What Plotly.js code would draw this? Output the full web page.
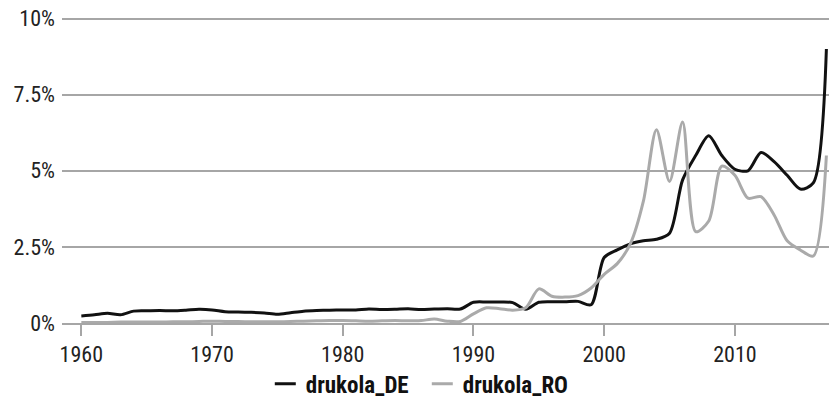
<!DOCTYPE html>
<html>
<head>
<meta charset="utf-8">
<script src="https://cdn.plot.ly/plotly-3.0.1.min.js"></script>
<style>
html,body{margin:0;padding:0;background:#fff;}
#chart{width:829px;height:410px;}
</style>
</head>
<body>
<div id="chart"></div>
<script>
var years = [];
for (var y = 1960; y <= 2017; y++) years.push(y);

var drukola_DE = [
  0.23, 0.27, 0.32, 0.27, 0.39, 0.40, 0.41, 0.40, 0.42, 0.45,
  0.43, 0.37, 0.36, 0.35, 0.33, 0.29, 0.34, 0.39, 0.41, 0.42,
  0.43, 0.43, 0.46, 0.44, 0.45, 0.47, 0.44, 0.46, 0.47, 0.46,
  0.68, 0.69, 0.69, 0.67, 0.45, 0.68, 0.70, 0.70, 0.71, 0.60,
  2.15, 2.40, 2.60, 2.70, 2.75, 2.95, 4.70, 5.50, 6.15, 5.50,
  5.05, 5.00, 5.60, 5.30, 4.85, 4.40, 4.60, 9.00
];

var drukola_RO = [
  0.02, 0.02, 0.02, 0.03, 0.03, 0.03, 0.03, 0.04, 0.04, 0.05,
  0.06, 0.05, 0.05, 0.04, 0.04, 0.04, 0.05, 0.06, 0.07, 0.08,
  0.08, 0.07, 0.06, 0.07, 0.08, 0.07, 0.08, 0.13, 0.06, 0.05,
  0.30, 0.50, 0.47, 0.42, 0.50, 1.12, 0.88, 0.85, 0.90, 1.15,
  1.60, 1.95, 2.60, 4.00, 6.35, 4.65, 6.60, 3.00, 3.35, 5.15,
  4.85, 4.10, 4.15, 3.55, 2.70, 2.40, 2.20, 5.50
];

var yTickVals = [0, 2.5, 5, 7.5, 10];
var yTickText = ['0%', '2.5%', '5%', '7.5%', '10%'];
var xTickVals = [1960, 1970, 1980, 1990, 2000, 2010];

var fontFam = "'Roboto Condensed', 'Liberation Sans Narrow', 'Arial Narrow', Roboto, sans-serif";

var traces = [
  {
    x: years, y: drukola_DE, name: 'drukola_DE', type: 'scatter', mode: 'lines',
    line: {color: '#111111', width: 3, shape: 'spline', smoothing: 0.8},
    hoverinfo: 'skip'
  },
  {
    x: years, y: drukola_RO, name: 'drukola_RO', type: 'scatter', mode: 'lines',
    line: {color: '#aaaaaa', width: 3, shape: 'spline', smoothing: 0.8},
    hoverinfo: 'skip'
  }
];

var layout = {
  width: 829, height: 410,
  margin: {l: 62, r: 0, t: 17, b: 87},
  paper_bgcolor: '#ffffff', plot_bgcolor: '#ffffff',
  font: {family: fontFam, size: 22, color: '#222222'},
  showlegend: true,
  legend: {
    orientation: 'h', x: 0.510, xanchor: 'center', xref: 'container',
    y: 0.064, yanchor: 'middle', yref: 'container',
    font: {family: fontFam, size: 23, color: '#111111', weight: 'bold'},
    itemwidth: 30, entrywidth: 112, entrywidthmode: 'pixels',
    traceorder: 'normal', bgcolor: 'rgba(0,0,0,0)'
  },
  xaxis: {
    range: [1958.52, 2017.2],
    tickvals: xTickVals,
    ticktext: xTickVals.map(String),
    showgrid: false, zeroline: false,
    showline: true, linecolor: '#a6a6a6', linewidth: 2,
    ticks: 'outside', ticklen: 11, tickwidth: 2, tickcolor: '#a6a6a6',
    tickfont: {family: fontFam, size: 22, color: '#222222'},
    fixedrange: true
  },
  yaxis: {
    range: [0, 10.05],
    tickvals: yTickVals,
    ticktext: yTickText,
    showgrid: true, gridcolor: '#a6a6a6', gridwidth: 2,
    zeroline: false, showline: false, ticks: '',
    ticklabelstandoff: 6,
    tickfont: {family: fontFam, size: 22, color: '#222222'},
    fixedrange: true
  }
};

Plotly.newPlot('chart', traces, layout, {displayModeBar: false, staticPlot: true}).then(function (gd) {
  // shorten legend line samples to match the reference
  var paths = gd.querySelectorAll('.legend .legendlines path');
  paths.forEach(function (p) { p.setAttribute('d', 'M9,0h21'); });
});
</script>
</body>
</html>
